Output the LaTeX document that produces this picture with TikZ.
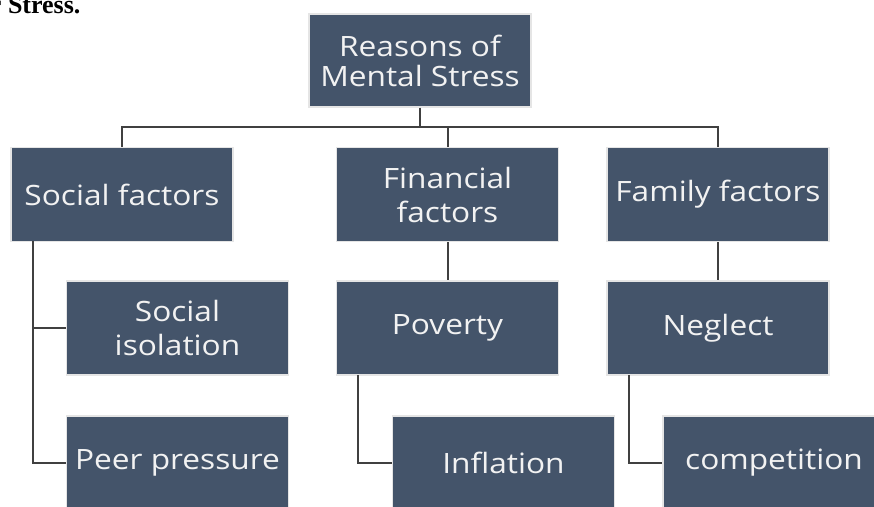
\documentclass[tikz,border=0pt]{standalone}
\usepackage{fontspec}
\setmainfont{Liberation Serif}
\newfontfamily\boxfont[FakeStretch=1.13]{Open Sans}
\definecolor{slate}{HTML}{44546A}
\definecolor{wire}{HTML}{404040}
\tikzset{
	box/.style={fill=slate, draw=gray!20, line width=1.2pt, text=white!95!black,
		minimum width=222pt, minimum height=94pt, inner sep=0pt, align=center,
		font=\boxfont\fontsize{28}{34}\selectfont},
	link/.style={draw=wire, line width=2pt}
}

\begin{document}
\begin{tikzpicture}[x=1pt,y=-1pt]
	\useasboundingbox (0,0) rectangle (874,506);
	\node [anchor=base east, font=\bfseries\fontsize{26}{28}\selectfont] (heading) at (84,13) {r Stress.};
	% top of the tree
	\node [box, minimum height=93pt, font=\boxfont\fontsize{28}{30}\selectfont] (root) at (420,60.5) {Reasons of\\Mental Stress};
	% first level
	\node [box] (social) at (122,194.5) {Social factors};
	\node [box] (financial) at (447.5,194.5) {Financial\\factors};
	\node [box] (family) at (718,194.5) {Family factors};
	% second level
	\node [box] (isolation) at (177.5,328) {Social\\isolation};
	\node [box] (poverty) at (447.5,328) {Poverty};
	\node [box] (neglect) at (718,328) {Neglect};
	% third level
	\node [box] (peer) at (177.5,463) {Peer pressure};
	\node [box] (inflation) at (503.5,463) {Inflation};
	\node [box] (competition) at (774,463) {competition};
	% connectors
	\coordinate (bus) at (420,127);
	\draw [link] (root.south) -- (bus) -| (social.north);
	\draw [link] (bus) -| (financial.north);
	\draw [link] (bus) -| (family.north);
	\coordinate (sspine) at (33,241);
	\draw [link] (sspine) |- (isolation.west);
	\draw [link] (sspine) |- (peer.west);
	\draw [link] (financial.south) -- (poverty.north);
	\draw [link] (family.south) -- (neglect.north);
	\coordinate (pspine) at (358,375);
	\draw [link] (pspine) |- (inflation.west);
	\coordinate (nspine) at (629,375);
	\draw [link] (nspine) |- (competition.west);
\end{tikzpicture}
\end{document}
